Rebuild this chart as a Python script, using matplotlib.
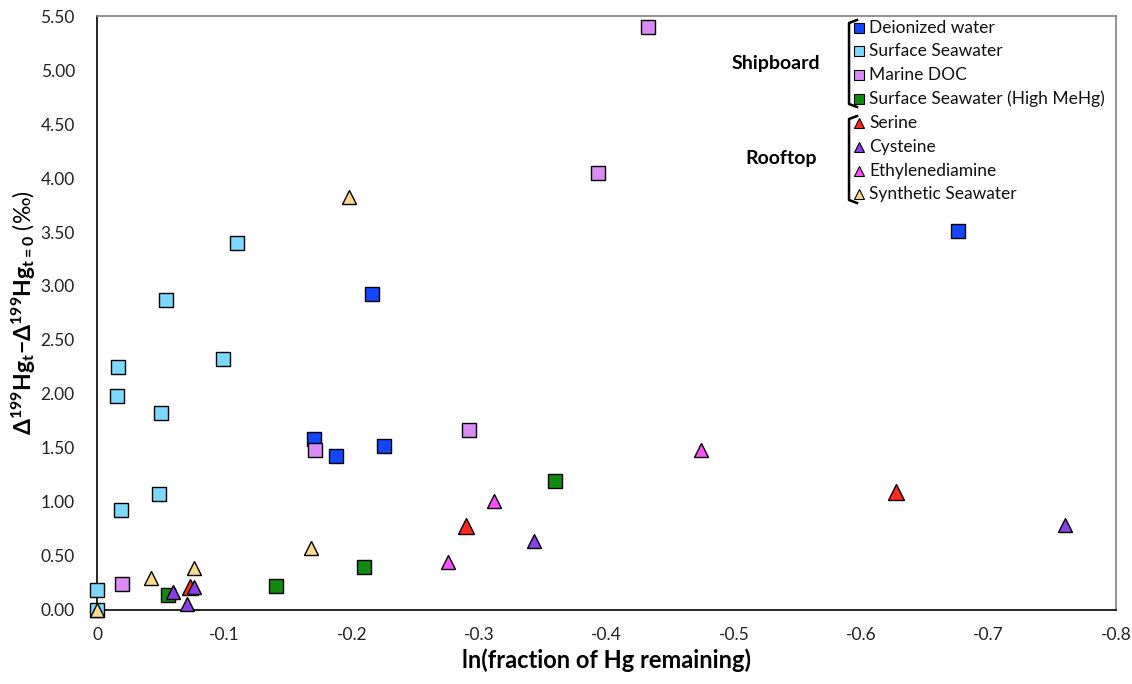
import matplotlib
matplotlib.use("Agg")
import matplotlib.pyplot as plt

plt.rcParams['font.family'] = ['Lato', 'DejaVu Sans']
plt.rcParams['mathtext.fontset'] = 'custom'
plt.rcParams['mathtext.rm'] = 'Lato'
plt.rcParams['mathtext.bf'] = 'Lato:bold'
plt.rcParams['mathtext.it'] = 'Lato:italic'

# ln(fraction of Hg remaining) and Δ199Hg change, per experiment series
deionized_x = [-0.676, -0.216, -0.170, -0.188, -0.225]
deionized_y = [3.51, 2.93, 1.58, 1.43, 1.52]

surface_x = [0.0, 0.0, -0.0165, -0.0157, -0.0188, -0.0487, -0.050, -0.054, -0.099, -0.110]
surface_y = [0.185, 0.0, 2.25, 1.98, 0.93, 1.07, 1.82, 2.87, 2.32, 3.40]

doc_x = [-0.4326, -0.393, -0.292, -0.171, -0.020]
doc_y = [5.40, 4.05, 1.67, 1.48, 0.24]

mehg_x = [-0.0557, -0.1405, -0.2096, -0.3596]
mehg_y = [0.14, 0.22, 0.40, 1.19]

serine_x = [-0.073, -0.2897, -0.627]
serine_y = [0.21, 0.78, 1.09]

cysteine_x = [-0.060, -0.071, -0.076, -0.343, -0.760]
cysteine_y = [0.17, 0.055, 0.21, 0.64, 0.79]

ethylene_x = [-0.2755, -0.3117, -0.474]
ethylene_y = [0.44, 1.01, 1.48]

synthetic_x = [0.0, -0.042, -0.076, -0.168, -0.198]
synthetic_y = [0.0, 0.30, 0.39, 0.57, 3.82]

series = [
    ("Deionized water", deionized_x, deionized_y, 's', '#1446FF', 9.5),
    ("Surface Seawater", surface_x, surface_y, 's', '#7DD8FF', 9.5),
    ("Marine DOC", doc_x, doc_y, 's', '#D98CF5', 9.5),
    ("Surface Seawater (High MeHg)", mehg_x, mehg_y, 's', '#128A12', 9.5),
    ("Serine", serine_x, serine_y, '^', '#FF2A1E', 12),
    ("Cysteine", cysteine_x, cysteine_y, '^', '#8A3FE8', 10.5),
    ("Ethylenediamine", ethylene_x, ethylene_y, '^', '#FF50FF', 10.5),
    ("Synthetic Seawater", synthetic_x, synthetic_y, '^', '#FADA8C', 10.5),
]

fig = plt.figure(figsize=(11.32, 6.84), dpi=100)
ax = fig.add_axes([0.0857, 0.1082, 0.9002, 0.8684])

for i, (name, xs, ys, mk, col, ms) in enumerate(series):
    ax.plot(xs, ys, linestyle='none', marker=mk, markersize=ms,
            markerfacecolor=col, markeredgecolor='black',
            markeredgewidth=1.0, zorder=3 + i, clip_on=False)

ax.set_xlim(0, -0.8)
ax.set_ylim(0, 5.5)
xt = [0, -0.1, -0.2, -0.3, -0.4, -0.5, -0.6, -0.7, -0.8]
ax.set_xticks(xt)
ax.set_xticklabels(['0', '-0.1', '-0.2', '-0.3', '-0.4', '-0.5', '-0.6', '-0.7', '-0.8'],
                   fontsize=12.5)
yt = [0.5 * k for k in range(12)]
ax.set_yticks(yt)
ax.set_yticklabels([f"{v:.2f}" for v in yt], fontsize=12.5)
ax.tick_params(axis='both', length=0, colors='#222222')
ax.xaxis.set_tick_params(pad=12)
ax.yaxis.set_tick_params(pad=16)

for s in ['left', 'bottom']:
    ax.spines[s].set_color('black')
    ax.spines[s].set_linewidth(1.2)
for s in ['top', 'right']:
    ax.spines[s].set_color('#7f7f7f')
    ax.spines[s].set_linewidth(1.2)

ax.set_xlabel('ln(fraction of Hg remaining)', fontsize=17, fontweight='bold',
              labelpad=4)
ax.set_ylabel(r'$\mathbf{\Delta^{199}Hg_{t}}$' + r'$\mathbf{-}$' +
              r'$\mathbf{\Delta^{199}Hg_{t=0}}$' + ' (‰)', fontsize=16.5, labelpad=2)

# legend block with group brackets
def fx(px):
    return (px - 97) / 1019.0

def fy(py):
    return (610 - py) / 594.0

entry_py = [28, 51, 75, 99, 123, 147, 171, 194]
for (name, xs, ys, mk, col, ms), py in zip(series, entry_py):
    ax.plot([fx(859)], [fy(py)], transform=ax.transAxes, marker=mk,
            markersize=6.5 if mk == 's' else 7, markerfacecolor=col,
            markeredgecolor='black', markeredgewidth=0.8, linestyle='none',
            clip_on=False, zorder=20)
    ax.text(fx(869), fy(py), name, transform=ax.transAxes, fontsize=12.5,
            va='center', ha='left', color='#111111', zorder=20)

for top, bot in [(20, 107), (116, 203)]:
    ax.plot([fx(857), fx(849), fx(849), fx(857)],
            [fy(top), fy(top + 3), fy(bot - 3), fy(bot)],
            transform=ax.transAxes, color='black', lw=1.8, clip_on=False,
            solid_joinstyle='round', zorder=20)

ax.text(fx(776), fy(63), 'Shipboard', transform=ax.transAxes, fontsize=14,
        fontweight='bold', ha='center', va='center', zorder=20)
ax.text(fx(781), fy(158), 'Rooftop', transform=ax.transAxes, fontsize=14,
        fontweight='bold', ha='center', va='center', zorder=20)

fig.savefig('out.png', dpi=100)
